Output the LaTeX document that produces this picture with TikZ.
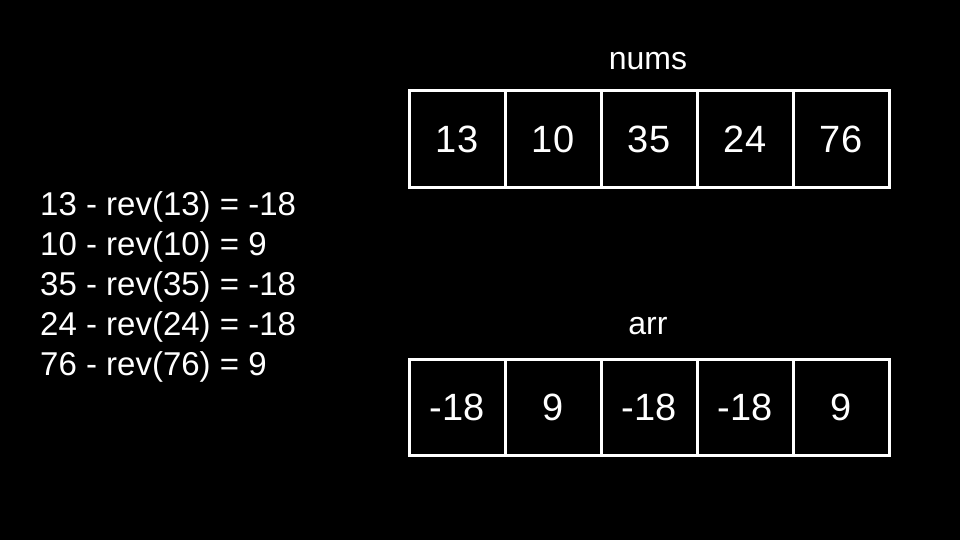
\documentclass[tikz,border=0pt]{standalone}
\usepackage{fontspec}
\setmainfont{Liberation Sans}
\usetikzlibrary{positioning}

\begin{document}
\begin{tikzpicture}[x=1pt, y=-1pt,
                    cell_node/.style={rectangle, draw=white, line width=3pt, minimum size=96pt, inner sep=0pt, outer sep=0pt, text=white, font=\fontsize{38}{40}\selectfont},
                    label_node/.style={text=white, inner sep=0pt, font=\fontsize{32}{36}\selectfont},
                    diff_node/.style={label_node, anchor=base west, font=\fontsize{33}{36}\selectfont}
                ]
                    \fill[black] (0,0) rectangle (960,540);
                    \useasboundingbox (0,0) rectangle (960,540);

                    % nums array
                    \node[label_node, anchor=base] (nums) at (648,70) {nums};
                    \node[cell_node] (num1) at (457,139) {13};
                    \node[cell_node, right=0pt of num1] (num2) {10};
                    \node[cell_node, right=0pt of num2] (num3) {35};
                    \node[cell_node, right=0pt of num3] (num4) {24};
                    \node[cell_node, right=0pt of num4] (num5) {76};

                    % arr array
                    \node[label_node, anchor=base] (arr) at (648,334) {arr};
                    \node[cell_node] (arr1) at (457,407) {-18};
                    \node[cell_node, right=0pt of arr1] (arr2) {9};
                    \node[cell_node, right=0pt of arr2] (arr3) {-18};
                    \node[cell_node, right=0pt of arr3] (arr4) {-18};
                    \node[cell_node, right=0pt of arr4] (arr5) {9};

                    % differences
                    \node[diff_node] (diff1) at (40,215) {13 - rev(13) = -18};
                    \node[diff_node] (diff2) at (40,255) {10 - rev(10) = 9};
                    \node[diff_node] (diff3) at (40,295) {35 - rev(35) = -18};
                    \node[diff_node] (diff4) at (40,335) {24 - rev(24) = -18};
                    \node[diff_node] (diff5) at (40,375) {76 - rev(76) = 9};
                \end{tikzpicture}
\end{document}
